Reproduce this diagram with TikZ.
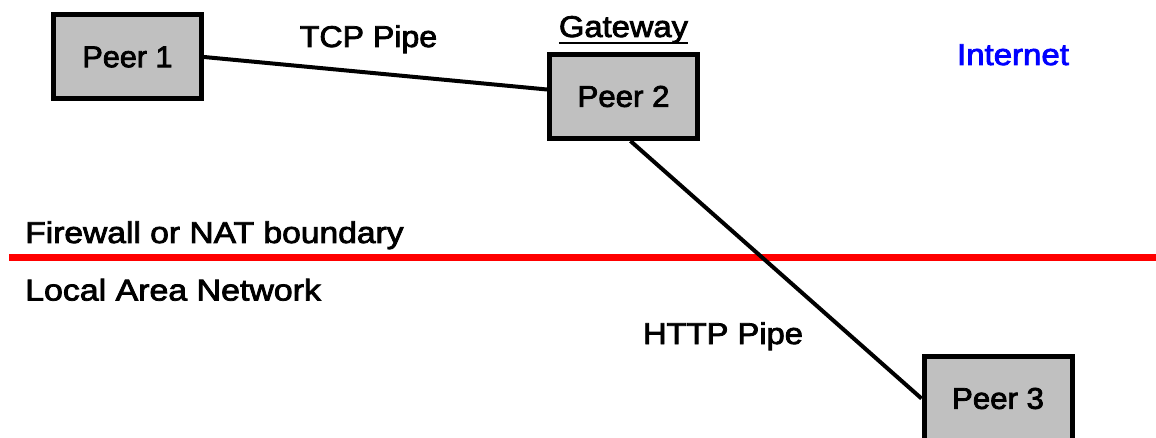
\documentclass[tikz,border=0pt]{standalone}
\usepackage{fontspec}
\usepackage{graphicx}
\setmainfont{Liberation Sans}[FakeBold=2.5]
\definecolor{boxgray}{RGB}{192,192,192}
\definecolor{netblue}{RGB}{0,0,255}
\newcommand{\wide}[2]{\scalebox{#1}[1]{#2}}
\begin{document}
\begin{tikzpicture}[x=1pt,y=-1pt,
  peerbox/.style={draw=black, fill=boxgray, line width=5pt,
    minimum width=148pt, minimum height=84pt, inner sep=0pt,
    font=\fontsize{30}{36}\selectfont},
  lbl/.style={inner sep=0pt, font=\fontsize{30}{36}\selectfont},
  pipe/.style={line width=4pt}]
\useasboundingbox (0,0) rectangle (1156,438);

% peers
\node[peerbox] (p1) at (127.5,57) {\wide{1.02}{Peer 1}};
\node[peerbox] (p2) at (623.5,96.5) {\wide{1.04}{Peer 2}};
\node[peerbox] (p3) at (998,398.5) {\wide{1.04}{Peer 3}};

% firewall line
\coordinate (fwl) at (9,258);
\coordinate (fwr) at (1156,258);
\draw[red, line width=7pt] (fwl) -- (fwr);

% pipes
\draw[pipe] (p1.east) -- ([yshift=7pt]p2.west);
\draw[pipe] ([xshift=7pt]p2.south) -- (p3.west);

% labels
\node[lbl, anchor=base] (tcp) at (368.5,47) {\wide{1.07}{TCP Pipe}};
\node[lbl, anchor=base] (gw) at (623.5,37) {\wide{1.09}{Gateway}};
\draw[line width=2pt] ([yshift=-6pt]gw.base west) -- ([yshift=-6pt]gw.base east);
\node[lbl, anchor=base, text=netblue] (inet) at (1013,65) {\wide{1.10}{Internet}};
\node[lbl, anchor=base west] (fw) at (25,243) {\wide{1.12}{Firewall or NAT boundary}};
\node[lbl, anchor=base west] (lan) at (25,300.5) {\wide{1.13}{Local Area Network}};
\node[lbl, anchor=base] (http) at (723,344) {\wide{1.09}{HTTP Pipe}};
\end{tikzpicture}
\end{document}
